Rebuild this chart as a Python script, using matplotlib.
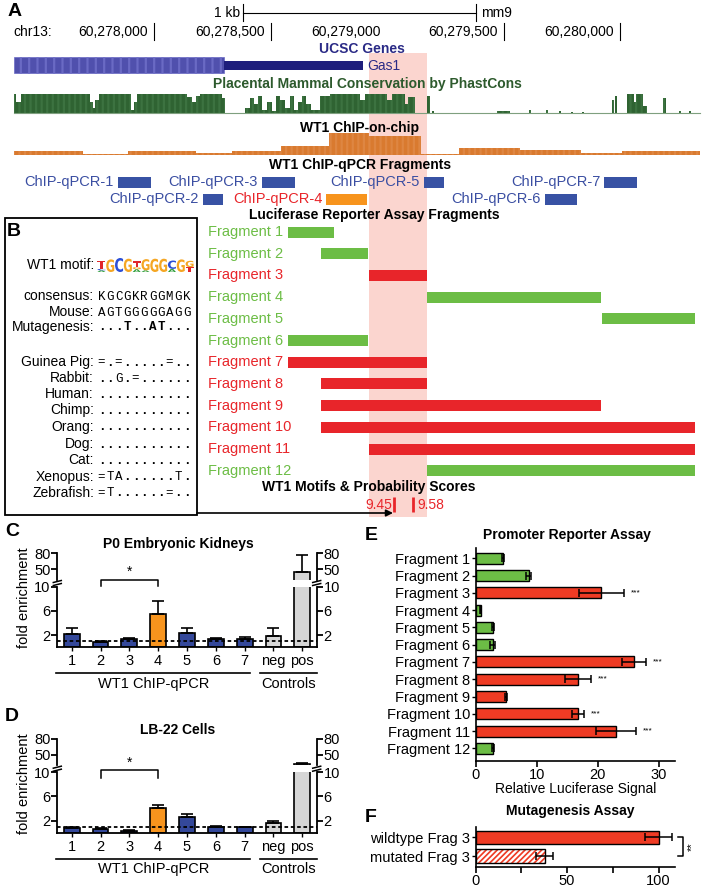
import matplotlib
matplotlib.use('Agg')
import matplotlib.pyplot as plt
import numpy as np
from matplotlib.patches import Rectangle, PathPatch
from matplotlib.lines import Line2D
from matplotlib.textpath import TextPath
from matplotlib.font_manager import FontProperties
from matplotlib.transforms import Affine2D

plt.rcParams['font.family'] = ['Liberation Sans', 'DejaVu Sans']
plt.rcParams['hatch.linewidth'] = 1.6

W, H = 703, 892

# ---------------- data: panel A (genome browser, mm9) ----------------
CHR_START = 60278000
chr_ticks = [60278000, 60278500, 60279000, 60279500, 60280000]
chr_tick_marks = [60278000, 60278500, 60279500, 60280000]
scale_bar = (60278382, 60279382)
gene_thick = (60277397, 60278300)
gene_thin = (60278300, 60278897)
highlight = (60278923, 60279172)

# PhastCons steps: start offsets (bp from CHR_START, last = end) and scores
cons_start = [-601, -592, -571, -275, -262, -253, -236, -99, -86, -73, 142, 163,
              180, 197, 292, 305, 391, 412, 429, 446, 464, 485, 506, 524, 541,
              562, 584, 601, 618, 635, 652, 674, 712, 755, 884, 906, 1000, 1021,
              1077, 1090, 1120, 1172, 1185, 1193, 1202, 1472, 1528, 1610, 1618,
              1683, 1691, 1739, 1745, 1791, 1797, 1838, 1844, 1966, 1974, 1978,
              1987, 2030, 2060, 2068, 2099, 2116, 2185, 2197, 2255, 2260, 2298,
              2303, 2343]
cons_score = [1.0, 0.6, 1.0, 0.6, 0.3, 0.7, 1.0, 0.2, 0.6, 1.0, 0.85, 0.6,
              0.9, 1.0, 0.8, 0.0, 0.3, 0.8, 0.5, 0.9, 0.2, 0.6, 0.1, 0.9, 0.7,
              0.3, 0.9, 0.2, 0.6, 0.9, 0.5, 0.15, 0.9, 1.0, 0.7, 1.0, 0.7, 1.0,
              0.5, 0.85, 0.0, 0.9, 0.0, 0.1, 0.0, 0.12, 0.0, 0.2, 0.0,
              0.15, 0.0, 0.1, 0.0, 0.08, 0.0, 0.08, 0.0, 0.7, 0.0, 0.9,
              0.0, 1.0, 0.6, 1.0, 0.4, 0.0, 0.8, 0.0, 0.1, 0.0, 0.1, 0.0]

# WT1 ChIP-on-chip steps
chip_start = [-603, -303, -110, 180, 335, 547, 750, 924, 1147, 1307, 1572, 1833, 2007, 2345]
chip_score = [0.35, 0.08, 0.35, 0.18, 0.4, 0.8, 2.0, 1.75, 0.12, 0.65, 0.45, 0.18, 0.35]

qpcr_names = ['ChIP-qPCR-1', 'ChIP-qPCR-2', 'ChIP-qPCR-3', 'ChIP-qPCR-4',
              'ChIP-qPCR-5', 'ChIP-qPCR-6', 'ChIP-qPCR-7']
qpcr_start = [-155, 210, 463, 740, 1159, 1678, 1933]
qpcr_end = [-13, 296, 605, 914, 1245, 1814, 2073]
qpcr_hit = 'ChIP-qPCR-4'

frag_names = ['Fragment %d' % i for i in range(1, 13)]
frag_start = [575, 717, 923, 1172, 1923, 575, 575, 717, 717, 717, 923, 1172]
frag_end = [773, 920, 1172, 1918, 2322, 920, 1172, 1172, 1918, 2322, 2322, 2322]
frag_active = [False, False, True, False, False, False, True, True, True, True, True, False]

motif_pos = [1030, 1113]
motif_score = ['9.45', '9.58']

# ---------------- data: panel B ----------------
logo_cols = [[('A', 0.12), ('C', 0.1), ('T', 0.6)], [('G', 0.9)], [('C', 1.0)],
             [('G', 0.95)], [('A', 0.2), ('G', 0.15), ('T', 0.4)], [('A', 0.12), ('G', 0.8)],
             [('G', 0.95)], [('G', 0.95)], [('A', 0.22), ('C', 0.6)], [('G', 0.9)],
             [('T', 0.35), ('G', 0.45)]]
seq_labels = ['consensus:', 'Mouse:', 'Mutagenesis:', 'Guinea Pig:', 'Rabbit:', 'Human:',
              'Chimp:', 'Orang:', 'Dog:', 'Cat:', 'Xenopus:', 'Zebrafish:']
seq_strings = ['KGCGKRGGMGK', 'AGTGGGGGAGG', '...T..AT...', '=.=.....=..', '..G.=......',
               '...........', '...........', '...........', '...........', '...........',
               '=TA......T.', '=T......=..']

# ---------------- data: panels C, D ----------------
chip_cats = ['1', '2', '3', '4', '5', '6', '7', 'neg', 'pos']
C_vals = [2.1, 0.9, 1.3, 5.5, 2.4, 1.3, 1.4, 1.9, 44]
C_err = [1.0, 0.15, 0.15, 2.1, 0.7, 0.25, 0.3, 1.2, 33]
D_vals = [0.75, 0.6, 0.33, 4.05, 2.67, 0.9, 1.0, 1.67, 32]
D_err = [0.3, 0.23, 0.17, 0.55, 0.43, 0.25, 0.05, 0.23, 1.5]

# ---------------- data: panels E, F ----------------
E_vals = [4.5, 8.7, 20.6, 0.8, 2.8, 2.8, 26.0, 16.8, 5.0, 16.8, 23.0, 2.8]
E_err = [0.2, 0.4, 3.7, 0.15, 0.2, 0.4, 2.0, 2.1, 0.2, 1.0, 3.3, 0.2]
E_sig = ['', '', '***', '', '', '', '***', '***', '', '***', '***', '']
F_names = ['wildtype Frag 3', 'mutated Frag 3']
F_vals = [100, 37.8]
F_err = [7.3, 4.6]

# ---------------- colours ----------------
NAVY = '#2a2a86'
GENE = '#5050ad'
CONS = '#2f6332'
CHIP = '#d97a2f'
PINK = '#fbd5cf'
QBLUE = '#3852a4'
QORANGE = '#f7941d'
RED = '#e8252a'
GREEN = '#6cbd45'
BARRED = '#ef3b24'
BARBLUE = '#34489a'
GREY = '#d6d6d6'
LOGO_COL = {'A': '#2e9e3a', 'C': '#2c4fd6', 'G': '#f5a623', 'T': '#e0262b'}

fig = plt.figure(figsize=(W / 100, H / 100), dpi=100)


def frect(x0, y0, x1, y1):
    return [x0 / W, 1 - y1 / H, (x1 - x0) / W, (y1 - y0) / H]


def fx(x):
    return x / W


def fy(y):
    return 1 - y / H


PX0 = 154.0
PX_PER_BP = 0.233


def bp(px):
    return px / PX_PER_BP


axA = fig.add_axes([0, 0, 1, 1])
axA.set_xlim(CHR_START - PX0 / PX_PER_BP, CHR_START + (W - PX0) / PX_PER_BP)
axA.set_ylim(H, 0)
axA.axis('off')
axB = fig.add_axes([0, 0, 1, 1])
axB.set_xlim(0, W)
axB.set_ylim(H, 0)
axB.axis('off')

# ---------------- panel A ----------------
axB.text(14.5, 12, 'A', fontsize=14, weight='bold', ha='center', va='center')
axA.plot(scale_bar, [13, 13], color='k', lw=0.8)
for x in scale_bar:
    axA.plot([x, x], [4, 21], color='k', lw=0.8)
axA.text(scale_bar[0] - bp(3), 13, '1 kb', ha='right', va='center', fontsize=10)
axA.text(scale_bar[1] + bp(5), 13, 'mm9', ha='left', va='center', fontsize=10)
axB.text(13, 32, 'chr13:', ha='left', va='center', fontsize=10)
for t in chr_ticks:
    axA.text(t - bp(6), 32, '{:,}'.format(t), ha='right', va='center', fontsize=10)
for t in chr_tick_marks:
    axA.plot([t, t], [23, 40], color='k', lw=0.8)

axA.add_patch(Rectangle((highlight[0], 53), highlight[1] - highlight[0], 517 - 53,
                        facecolor=PINK, lw=0, zorder=0))

axB.text(362, 49, 'UCSC Genes', color=NAVY, weight='bold', fontsize=10, ha='center', va='center')
axA.add_patch(Rectangle((gene_thick[0], 57), gene_thick[1] - gene_thick[0], 16,
                        facecolor=GENE, edgecolor='#6a6ac4', hatch='||', lw=0.5, zorder=2))
axA.add_patch(Rectangle((gene_thin[0], 61), gene_thin[1] - gene_thin[0], 9,
                        facecolor='#1e1e7c', lw=0, zorder=2))
axA.text(gene_thin[1] + bp(4), 66, 'Gas1', color=NAVY, fontsize=10, ha='left', va='center')

axB.text(367, 84, 'Placental Mammal Conservation by PhastCons', color='#2d5a2d',
         weight='bold', fontsize=10, ha='center', va='center')
cx = CHR_START + np.array(cons_start)
cs = np.append(cons_score, 0.0)
axA.fill_between(cx, 113.3, 113.3 - cs * 19, step='post', facecolor=CONS,
                 edgecolor='#3c7240', hatch='|||', lw=0, zorder=2)
axA.plot([cx[0], cx[-1]], [113.3, 113.3], color='#7fa07f', lw=0.8, zorder=2)

axB.text(360, 128, 'WT1 ChIP-on-chip', weight='bold', fontsize=10, ha='center', va='center')
hx = CHR_START + np.array(chip_start)
hs = np.append(chip_score, chip_score[-1])
axA.fill_between(hx, 155, 155 - hs * 11, step='post', facecolor=CHIP,
                 edgecolor='#de8642', hatch='|||', lw=0, zorder=2)

axB.text(360, 165, 'WT1 ChIP-qPCR Fragments', weight='bold', fontsize=10, ha='center', va='center')
qpcr_y = [182, 199]
for i, (name, s, e) in enumerate(zip(qpcr_names, qpcr_start, qpcr_end)):
    y = qpcr_y[i % 2]
    hit = name == qpcr_hit
    axA.barh(y, e - s, left=CHR_START + s, height=11,
             color=QORANGE if hit else QBLUE, zorder=2)
    axA.text(CHR_START + s - bp(4), y, name, ha='right', va='center', fontsize=10.5,
             color=RED if hit else '#3a4ea2')

axB.text(374, 215, 'Luciferase Reporter Assay Fragments', weight='bold', fontsize=10,
         ha='center', va='center')
frag_y = 232 + np.arange(len(frag_names)) * 21.7
frag_cols = [RED if a else GREEN for a in frag_active]
axA.barh(frag_y, np.array(frag_end) - np.array(frag_start),
         left=CHR_START + np.array(frag_start), height=11, color=frag_cols, zorder=2)
for y, name, c in zip(frag_y, frag_names, frag_cols):
    axB.text(208, y, name, color=c, fontsize=10.5, ha='left', va='center')

axB.text(369, 487, 'WT1 Motifs & Probability Scores', weight='bold', fontsize=10,
         ha='center', va='center')
axA.vlines(CHR_START + np.array(motif_pos), 497, 512, color=RED, lw=2, zorder=3)
axA.text(CHR_START + motif_pos[0] - bp(2), 505, motif_score[0], color=RED, fontsize=10,
         ha='right', va='center')
axA.text(CHR_START + motif_pos[1] + bp(4), 505, motif_score[1], color=RED, fontsize=10,
         ha='left', va='center')
axB.annotate('', xy=(393, 513), xytext=(197, 513),
             arrowprops=dict(arrowstyle='-|>', color='k', lw=1.2, mutation_scale=10,
                             shrinkA=0, shrinkB=0))

# ---------------- panel B ----------------
axB.add_patch(Rectangle((4.5, 218), 192.5, 297, fill=False, lw=1.3, ec='k'))
axB.text(13.5, 231, 'B', fontsize=14, weight='bold', ha='center', va='center')
axB.text(94, 265, 'WT1 motif:', fontsize=10, ha='right', va='center')

LOGO_FP = FontProperties(family='DejaVu Sans', weight='bold')


def logo_letter(ax, ch, x, y_bottom, w, h, color):
    tp = TextPath((0, 0), ch, size=1, prop=LOGO_FP)
    bb = tp.get_extents()
    tr = (Affine2D().translate(-bb.x0, -bb.y0)
          .scale(w / bb.width, -h / bb.height).translate(x, y_bottom))
    ax.add_patch(PathPatch(tr.transform_path(tp), facecolor=color, lw=0))


col_w = 97 / len(logo_cols)
for i, col in enumerate(logo_cols):
    y0 = 272
    for ch, frac in col:
        hgt = frac * 14
        logo_letter(axB, ch, 97 + i * col_w + 0.4, y0, col_w - 0.8, hgt, LOGO_COL[ch])
        y0 -= hgt

seq_y = [296, 312, 327, 362, 378, 394, 410, 427, 444, 460, 477, 493]
for lab, seq, y in zip(seq_labels, seq_strings, seq_y):
    axB.text(94, y, lab, fontsize=10, ha='right', va='center')
    for j, ch in enumerate(seq):
        bold = lab == 'Mutagenesis:' or (ch == '.' and lab not in ('consensus:', 'Mouse:'))
        axB.text(101.5 + j * 8.5, y + 0.5, ch, fontsize=9, family='Liberation Mono',
                 weight='bold' if bold else 'normal', ha='center', va='center')


# ---------------- panels C & D ----------------
def chip_panel(dy, letter, title, vals, errs, br_top, br_low, star_y):
    fig.text(fx(12), fy(531 + dy), letter, fontsize=14, weight='bold', ha='center', va='center')
    fig.text(fx(178), fy(544 + dy), title, fontsize=10, weight='bold', ha='center', va='center')
    fig.text(fx(24), fy(598 + dy), 'fold enrichment', rotation=90, fontsize=10.5,
             ha='center', va='center')
    lo = fig.add_axes(frect(57.3, 586.5 + dy, 316.7, 647.2 + dy))
    hi = fig.add_axes(frect(57.3, 553.3 + dy, 316.7, 579.5 + dy))
    x = np.arange(len(chip_cats))
    cols = [BARBLUE] * 3 + [QORANGE] + [BARBLUE] * 3 + [GREY, GREY]
    for ax in (lo, hi):
        ax.bar(x, vals, width=0.55, color=cols, edgecolor='k', lw=1.2, zorder=2)
        ax.errorbar(x, vals, yerr=[np.zeros(len(vals)), errs], fmt='none', ecolor='k',
                    elinewidth=1.2, capsize=4, capthick=1.2, zorder=3)
        ax.set_xlim(-0.5, 8.5)
        ax.patch.set_alpha(0)
        ax.spines['top'].set_visible(False)
        for s in ('left', 'right'):
            ax.spines[s].set_linewidth(1.3)
        ax.tick_params(axis='y', left=True, right=True, labelleft=True, labelright=True,
                       direction='out', length=4, width=1.3, labelsize=10.5, pad=1)
    lo.set_ylim(0, 10)
    lo.set_yticks([2, 6, 10])
    hi.set_ylim(30, 80)
    hi.set_yticks([50, 80])
    hi.spines['bottom'].set_visible(False)
    hi.set_xticks([])
    lo.spines['bottom'].set_linewidth(1.3)
    lo.set_xticks(x)
    lo.set_xticklabels(chip_cats, fontsize=10.5)
    lo.tick_params(axis='x', length=3, width=1.0, pad=2)
    lo.axhline(1, color='k', ls=(0, (2, 1.5)), lw=1.3, zorder=4)
    # axis breaks
    for xs in (57.3, 316.7):
        for yb in (581.5, 584.5):
            fig.add_artist(Line2D([fx(xs - 4), fx(xs + 4)], [fy(yb + dy + 1), fy(yb + dy - 1)],
                                  color='k', lw=1.1))
    # significance bracket
    lo.plot([1, 1, 3, 3], [br_low, br_top, br_top, br_low], color='k', lw=1.1, clip_on=False)
    lo.text(2, star_y, '*', ha='center', va='center', fontsize=10, clip_on=False)
    # group underlines
    tr = lo.get_xaxis_transform()
    lo.plot([-0.55, 6.2], [-0.425, -0.425], transform=tr, color='k', lw=1.2, clip_on=False)
    lo.plot([6.55, 8.5], [-0.425, -0.425], transform=tr, color='k', lw=1.2, clip_on=False)
    lo.text(2.83, -0.6, 'WT1 ChIP-qPCR', transform=tr, ha='center', va='center', fontsize=10.5)
    lo.text(7.52, -0.6, 'Controls', transform=tr, ha='center', va='center', fontsize=10.5)


chip_panel(0, 'C', 'P0 Embryonic Kidneys', C_vals, C_err, 11.1, 10.1, 12.5)
chip_panel(185.7, 'D', 'LB-22 Cells', D_vals, D_err, 10.3, 9.0, 11.6)

# ---------------- panel E ----------------
fig.text(fx(371.5), fy(536), 'E', fontsize=14, weight='bold', ha='center', va='center')
fig.text(fx(567), fy(535), 'Promoter Reporter Assay', fontsize=10, weight='bold',
         ha='center', va='center')
axE = fig.add_axes(frect(475.7, 548, 675, 761))
yE = np.arange(len(frag_names))
e_cols = [BARRED if a else GREEN for a in frag_active]
axE.barh(yE, E_vals, height=0.64, color=e_cols, edgecolor='k', lw=1, zorder=2)
axE.errorbar(E_vals, yE, xerr=E_err, fmt='none', ecolor='k', elinewidth=1.1,
             capsize=3, capthick=1.1, zorder=3)
for v, er, s, y in zip(E_vals, E_err, E_sig, yE):
    if s:
        axE.text(v + er + 1.1, y, s, fontsize=6, ha='left', va='center')
axE.set_ylim(11.735, -0.6)
axE.set_xlim(0, 32.7)
axE.set_yticks(yE)
axE.set_yticklabels(frag_names, fontsize=10.5)
axE.set_xticks([0, 10, 20, 30])
axE.tick_params(axis='x', labelsize=10.5, length=4, width=1.2, pad=1)
axE.tick_params(axis='y', length=3, width=1.0, pad=1)
axE.set_xlabel('Relative Luciferase Signal', fontsize=10, labelpad=0)
for s in ('top', 'right'):
    axE.spines[s].set_visible(False)
for s in ('left', 'bottom'):
    axE.spines[s].set_linewidth(1.2)
axE.patch.set_alpha(0)

# ---------------- panel F ----------------
fig.text(fx(370.5), fy(817), 'F', fontsize=14, weight='bold', ha='center', va='center')
fig.text(fx(570), fy(811), 'Mutagenesis Assay', fontsize=10, weight='bold',
         ha='center', va='center')
axF = fig.add_axes(frect(475.7, 826.7, 675, 867.3))
yF = np.arange(len(F_names))
axF.barh(yF[0], F_vals[0], height=0.71, color=BARRED, edgecolor='k', lw=1, zorder=2)
axF.barh(yF[1], F_vals[1], height=0.71, color=BARRED, edgecolor='white', hatch='//////',
         lw=0, zorder=2)
axF.barh(yF[1], F_vals[1], height=0.71, color='none', edgecolor='k', lw=1, zorder=2)
axF.errorbar(F_vals, yF, xerr=F_err, fmt='none', ecolor='k', elinewidth=1.1,
             capsize=3, capthick=1.1, zorder=3)
axF.plot([110.6, 113.3, 113.3, 110.6], [0, 0, 1, 1], color='k', lw=1.1, clip_on=False)
axF.text(118, 0.5, '**', rotation=90, fontsize=8, ha='center', va='center', clip_on=False)
axF.set_ylim(1.604, -0.567)
axF.set_xlim(0, 109)
axF.set_yticks(yF)
axF.set_yticklabels(F_names, fontsize=10.5)
axF.set_xticks([0, 25, 50, 75, 100])
axF.set_xticklabels(['0', '', '50', '', '100'])
axF.tick_params(axis='x', labelsize=10.5, length=4, width=1.2, pad=1)
axF.tick_params(axis='y', length=3, width=1.0, pad=1)
for s in ('top', 'right'):
    axF.spines[s].set_visible(False)
for s in ('left', 'bottom'):
    axF.spines[s].set_linewidth(1.2)
axF.patch.set_alpha(0)

fig.savefig('out.png', dpi=100)
